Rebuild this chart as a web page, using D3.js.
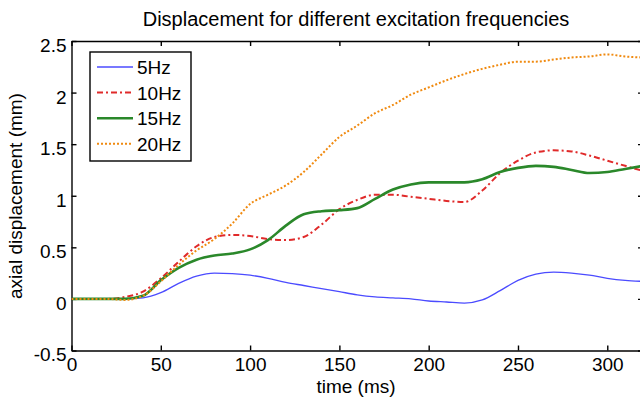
<!DOCTYPE html>
<html>
<head>
<meta charset="utf-8">
<script src="https://cdn.jsdelivr.net/npm/d3@7"></script>
<style>
  body { margin: 0; background: #fff; }
  svg text { font-family: "Liberation Sans", Arial, sans-serif; fill: #000; }
</style>
</head>
<body>
<svg id="chart" width="640" height="401"></svg>
<script>
// time axis (ms) sampled every 10 ms
const times = [0,10,20,30,40,50,60,70,80,90,100,110,120,130,140,150,160,170,180,190,200,210,220,230,240,250,260,270,280,290,300,310,320]

const hz5  = [0,0,0,0,0.01,0.06,0.15,0.22,0.25,0.245,0.23,0.2,0.16,0.13,0.1,0.07,0.04,0.02,0.01,0,-0.02,-0.03,-0.04,-0.01,0.08,0.18,0.24,0.26,0.25,0.23,0.2,0.18,0.17]
const hz10 = [0,0,0,0.02,0.07,0.2,0.36,0.51,0.6,0.62,0.61,0.58,0.57,0.6,0.72,0.87,0.96,1.01,1.01,0.99,0.97,0.95,0.94,1.05,1.22,1.34,1.42,1.44,1.43,1.39,1.34,1.29,1.24]
const hz15 = [0,0,0,0,0.03,0.18,0.3,0.38,0.42,0.44,0.48,0.57,0.71,0.82,0.85,0.86,0.88,0.97,1.06,1.11,1.13,1.13,1.13,1.16,1.23,1.27,1.29,1.28,1.25,1.22,1.23,1.26,1.29]
const hz20 = [0,0,0,-0.01,0.03,0.17,0.33,0.47,0.58,0.73,0.92,1.01,1.1,1.23,1.4,1.57,1.68,1.8,1.88,1.98,2.05,2.12,2.18,2.23,2.27,2.3,2.3,2.32,2.34,2.35,2.37,2.35,2.34]

const seriesNames = ["5Hz", "10Hz", "15Hz", "20Hz"]
const xTicks = [0, 50, 100, 150, 200, 250, 300]
const yTicks = [-0.5, 0, 0.5, 1, 1.5, 2, 2.5]

// line looks per series
const styles = [
  { color: "#4b4bff", width: 1.3, dash: null },
  { color: "#e02a2a", width: 2, dash: "6,3,2,3" },
  { color: "#2a882a", width: 2.6, dash: null },
  { color: "#f08a10", width: 2, dash: "2,2" }
]

const svg = d3.select("#chart")
const pLeft = 71.5, pRight = 643, pTop = 41, pBottom = 350.5
const fs = 19

const x = d3.scaleLinear().domain([0, 320]).range([pLeft, pRight])
const y = d3.scaleLinear().domain([-0.5, 2.5]).range([pBottom, pTop])

svg.append("clipPath").attr("id", "clip")
  .append("rect").attr("x", pLeft).attr("y", pTop).attr("width", pRight - pLeft).attr("height", pBottom - pTop)

// axes, matlab style: ticks pointing in, box all round
const fmt = d => String(d)
const xAx = svg.append("g").attr("transform", `translate(0,${pBottom})`)
  .call(d3.axisBottom(x).tickValues(xTicks).tickFormat(fmt).tickSizeInner(-5).tickSizeOuter(0).tickPadding(7))
svg.append("g").attr("transform", `translate(0,${pTop})`)
  .call(d3.axisTop(x).tickValues(xTicks).tickFormat("").tickSizeInner(-5).tickSizeOuter(0))
const yAx = svg.append("g").attr("transform", `translate(${pLeft},0)`)
  .call(d3.axisLeft(y).tickValues(yTicks).tickFormat(fmt).tickSizeInner(-5).tickSizeOuter(0).tickPadding(5))
svg.append("g").attr("transform", `translate(${pRight},0)`)
  .call(d3.axisRight(y).tickValues(yTicks).tickFormat("").tickSizeInner(-5).tickSizeOuter(0))

svg.selectAll(".domain, .tick line").attr("stroke", "#000").attr("stroke-width", 1.4)
svg.selectAll(".tick text").attr("font-size", fs).attr("fill", "#000")
yAx.selectAll(".tick text").attr("dy", "0.55em")

// lines
const allSeries = [hz5, hz10, hz15, hz20]
const line = d3.line()
  .x((d, i) => x(times[i]))
  .y(d => y(d))
  .curve(d3.curveMonotoneX)

allSeries.forEach((s, k) => {
  svg.append("path")
    .datum(s)
    .attr("clip-path", "url(#clip)")
    .attr("d", line)
    .attr("fill", "none")
    .attr("stroke", styles[k].color)
    .attr("stroke-width", styles[k].width)
    .attr("stroke-dasharray", styles[k].dash)
})

// titles
svg.append("text").attr("x", 356).attr("y", 26).attr("text-anchor", "middle")
  .attr("font-size", 20).text("Displacement for different excitation frequencies")
svg.append("text").attr("x", 356).attr("y", 393).attr("text-anchor", "middle")
  .attr("font-size", fs).text("time (ms)")
svg.append("text").attr("transform", "translate(22,196) rotate(-90)").attr("text-anchor", "middle")
  .attr("font-size", fs).text("axial displacement (mm)")

// legend
const lg = svg.append("g")
lg.append("rect").attr("x", 90).attr("y", 52).attr("width", 101).attr("height", 109)
  .attr("fill", "#fff").attr("stroke", "#000").attr("stroke-width", 1.4)
seriesNames.forEach((name, k) => {
  const ly = 67 + k * 25.6
  lg.append("line").attr("x1", 97).attr("x2", 133).attr("y1", ly).attr("y2", ly)
    .attr("stroke", styles[k].color).attr("stroke-width", styles[k].width)
    .attr("stroke-dasharray", styles[k].dash)
  lg.append("text").attr("x", 137).attr("y", ly + 7).attr("font-size", fs).text(name)
})
</script>
</body>
</html>
